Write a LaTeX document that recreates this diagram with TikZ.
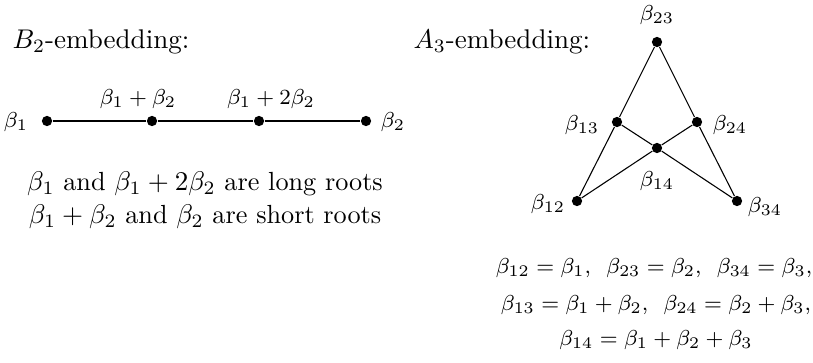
\documentclass[tikz,border=0pt]{standalone}
\begin{document}
\begin{tikzpicture}[x=0.37pt, y=-0.37pt,
  rootdot/.style={circle, fill, inner sep=0pt, minimum size=3.8pt},
  rootlabel/.style={font=\fontsize{8.5pt}{10.2pt}\selectfont}]
\useasboundingbox (0,0) rectangle (813,362);

% The B_2 embedding
\node[anchor=west] (btitle) at (3,42) {$B_2$-embedding:};
\node[rootdot] (b1) at (47,121) {};
\node[rootdot] (b12) at (152,121) {};
\node[rootdot] (b122) at (259,121) {};
\node[rootdot] (b2) at (366,121) {};
\draw (b1) -- (b12) -- (b122) -- (b2);
\node[rootlabel] (lb1) at (16,122) {$\beta_1$};
\node[rootlabel] (lb2) at (393,122) {$\beta_2$};
\node[rootlabel] (lb12) at (138,99) {$\beta_1+\beta_2$};
\node[rootlabel] (lb122) at (271,99) {$\beta_1+2\beta_2$};
\node[align=center, font=\fontsize{9.7pt}{12.2pt}\selectfont] (bnote) at (205,200)
  {$\beta_1$ and $\beta_1+2\beta_2$ are long roots\\
   $\beta_1+\beta_2$ and $\beta_2$ are short roots};

% The A_3 embedding
\node[anchor=west] (atitle) at (404,42) {$A_3$-embedding:};
\node[rootdot] (a23) at (657,42) {};
\node[rootdot] (a13) at (617,122) {};
\node[rootdot] (a24) at (697,122) {};
\node[rootdot] (a14) at (657,148) {};
\node[rootdot] (a12) at (577,201) {};
\node[rootdot] (a34) at (737,201) {};
\draw (a12) -- (a13) -- (a23) -- (a24) -- (a34);
\draw (a13) -- (a14) -- (a34);
\draw (a24) -- (a14) -- (a12);
\node[rootlabel] (la23) at (657,15) {$\beta_{23}$};
\node[rootlabel] (la13) at (582,125) {$\beta_{13}$};
\node[rootlabel] (la24) at (730,125) {$\beta_{24}$};
\node[rootlabel] (la14) at (657,181) {$\beta_{14}$};
\node[rootlabel] (la12) at (548,204) {$\beta_{12}$};
\node[rootlabel] (la34) at (765,207) {$\beta_{34}$};

% The relations
\node[rootlabel] (eq1) at (654,268) {$\beta_{12}=\beta_1,\enspace\beta_{23}=\beta_2,\enspace\beta_{34}=\beta_3,$};
\node[rootlabel] (eq2) at (656,305) {$\beta_{13}=\beta_1+\beta_2,\enspace\beta_{24}=\beta_2+\beta_3,$};
\node[rootlabel] (eq3) at (656,340) {$\beta_{14}=\beta_1+\beta_2+\beta_3$};

\end{tikzpicture}
\end{document}
